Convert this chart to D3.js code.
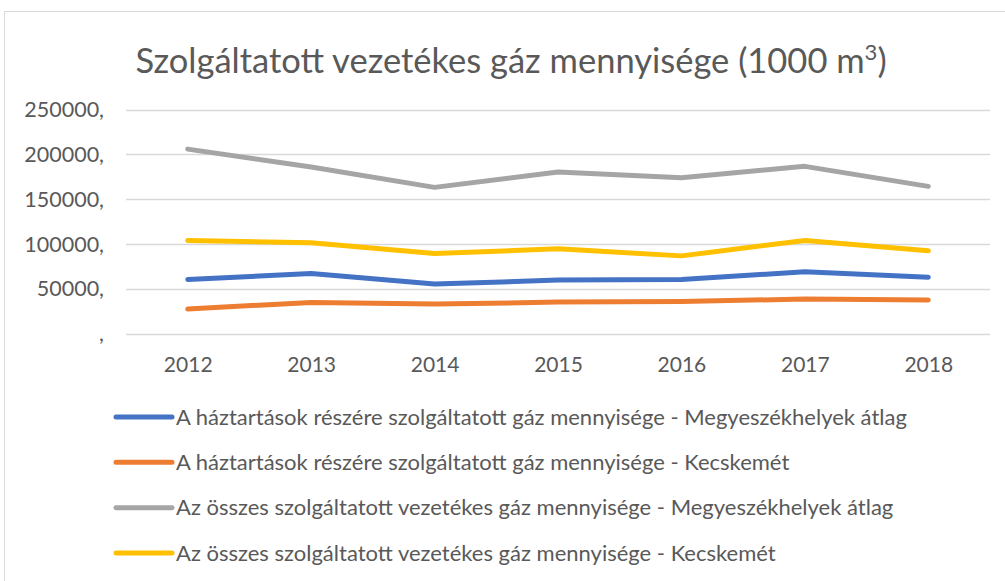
<!DOCTYPE html>
<html>
<head>
<meta charset="utf-8">
<script src="https://cdn.jsdelivr.net/npm/d3@7"></script>
<style>
  body { margin: 0; background: #fff; }
  text { font-family: Lato, "Open Sans", sans-serif; fill: #595959; }
</style>
</head>
<body>
<div id="canvas"></div>
<script>
"use strict"

/* Data */
let years = ["2012", "2013", "2014", "2015", "2016", "2017", "2018"];
let yTicks = [0, 50000, 100000, 150000, 200000, 250000];
let seriesNames = [
    "A háztartások részére szolgáltatott gáz mennyisége - Megyeszékhelyek átlag",
    "A háztartások részére szolgáltatott gáz mennyisége - Kecskemét",
    "Az összes szolgáltatott vezetékes gáz mennyisége - Megyeszékhelyek átlag",
    "Az összes szolgáltatott vezetékes gáz mennyisége - Kecskemét"
];
let haztartasMegye = [60700, 67400, 55600, 60000, 60700, 69300, 63300];
let haztartasKecskemet = [27800, 35200, 33300, 35500, 36300, 38900, 37800];
let osszesMegye = [205900, 185900, 163300, 180400, 174100, 186700, 164400];
let osszesKecskemet = [104100, 101500, 89600, 94800, 87000, 104100, 92600];
let seriesValues = [haztartasMegye, haztartasKecskemet, osszesMegye, osszesKecskemet];
let colors = ["#4472C4", "#ED7D31", "#A5A5A5", "#FFC000"];

let drawing = d3.select("#canvas")
    .append("svg")
    .attr("width", 1005)
    .attr("height", 581);

/* Chart border */
drawing.append("rect")
    .attr("x", 4.5)
    .attr("y", 11.5)
    .attr("width", 1010)
    .attr("height", 600)
    .attr("fill", "none")
    .attr("stroke", "#d9d9d9");

/* Title */
let title = drawing.append("text")
    .attr("x", 511)
    .attr("y", 73)
    .attr("text-anchor", "middle")
    .attr("font-size", 34.5)
    .text("Szolgáltatott vezetékes gáz mennyisége (1000 m");
title.append("tspan")
    .attr("font-size", 22)
    .attr("dy", -13)
    .text("3");
title.append("tspan")
    .attr("dy", 13)
    .text(")");

/* Scales */
let x = d3.scalePoint()
    .domain(years)
    .range([126, 990])
    .padding(0.5);

let y = d3.scaleLinear()
    .domain([0, 250000])
    .range([334, 109.5]);

/* Gridlines */
drawing.append("g")
    .selectAll("line")
    .data(yTicks)
    .join("line")
    .attr("x1", 126)
    .attr("x2", 990)
    .attr("y1", d => Math.round(y(d)) + 0.5)
    .attr("y2", d => Math.round(y(d)) + 0.5)
    .attr("stroke", "#d9d9d9")
    .attr("stroke-width", 1.3);

/* Y axis labels */
let yAxis = drawing.append("g")
    .attr("transform", "translate(104, 0)")
    .call(d3.axisLeft(y).tickValues(yTicks).tickSize(0).tickPadding(0)
        .tickFormat(d => (d === 0 ? "" : d) + ","));
yAxis.select(".domain").remove();
yAxis.selectAll("text")
    .attr("font-size", 21.5)
    .attr("font-family", "Lato, sans-serif")
    .attr("fill", "#595959");

/* X axis labels */
let xAxis = drawing.append("g")
    .attr("transform", "translate(0, 357)")
    .call(d3.axisBottom(x).tickSize(0).tickPadding(0));
xAxis.select(".domain").remove();
xAxis.selectAll("text")
    .attr("font-size", 21)
    .attr("font-family", "Lato, sans-serif")
    .attr("fill", "#595959");

/* Lines */
let line = d3.line()
    .x((d, i) => x(years[i]))
    .y(d => y(d));

drawing.append("g")
    .selectAll("path")
    .data(seriesValues)
    .join("path")
    .attr("d", d => line(d))
    .attr("fill", "none")
    .attr("stroke", (d, i) => colors[i])
    .attr("stroke-width", 5)
    .attr("stroke-linecap", "round")
    .attr("stroke-linejoin", "round");

/* Legend */
let legendY = d3.scalePoint()
    .domain(d3.range(seriesNames.length))
    .range([417, 553]);

let legend = drawing.append("g")
    .selectAll("g")
    .data(seriesNames)
    .join("g")
    .attr("transform", (d, i) => "translate(0," + legendY(i) + ")");

legend.append("line")
    .attr("x1", 116)
    .attr("x2", 172)
    .attr("stroke", (d, i) => colors[i])
    .attr("stroke-width", 5)
    .attr("stroke-linecap", "round");

legend.append("text")
    .attr("x", 176)
    .attr("dy", "0.35em")
    .attr("font-size", 22)
    .text(d => d);
</script>
</body>
</html>
